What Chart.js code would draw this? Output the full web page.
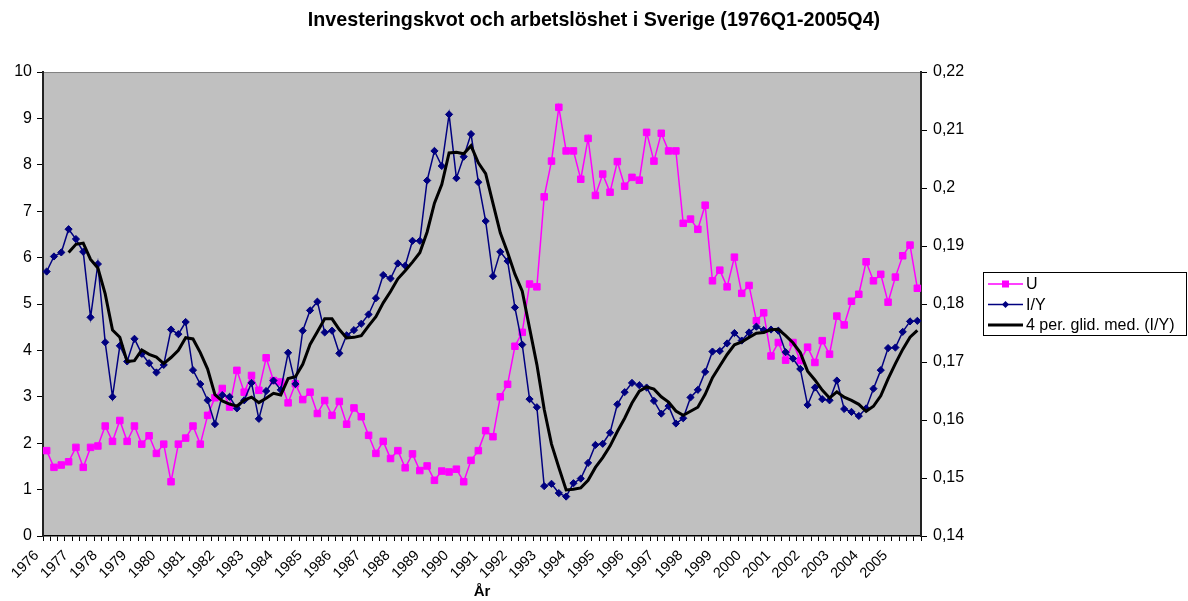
<!DOCTYPE html>
<html>
<head>
<meta charset="utf-8">
<script src="https://cdn.jsdelivr.net/npm/chart.js@4.4.0/dist/chart.umd.min.js"></script>
<style>
  html, body { margin: 0; padding: 0; background: #fff; }
  #wrap { width: 1188px; height: 601px; }
</style>
</head>
<body>
<div id="wrap"><canvas id="chart" width="1188" height="601"></canvas></div>
<script>
// years on the category axis (one label per Q1)
const years = [1976, 1977, 1978, 1979, 1980, 1981, 1982, 1983, 1984, 1985,
  1986, 1987, 1988, 1989, 1990, 1991, 1992, 1993, 1994, 1995,
  1996, 1997, 1998, 1999, 2000, 2001, 2002, 2003, 2004, 2005];
const quarters = ['Q1', 'Q2', 'Q3', 'Q4'];

// arbetslöshet, % (left axis)
const unemployment = [
  1.84, 1.48, 1.53, 1.60, 1.91, 1.48, 1.91, 1.94, 2.37, 2.04,
  2.49, 2.04, 2.37, 1.98, 2.16, 1.78, 1.98, 1.17, 1.98, 2.11,
  2.37, 1.98, 2.60, 2.98, 3.18, 2.78, 3.57, 3.10, 3.46, 3.14,
  3.84, 3.35, 3.32, 2.87, 3.28, 2.94, 3.10, 2.64, 2.92, 2.60,
  2.90, 2.41, 2.76, 2.57, 2.17, 1.78, 2.04, 1.67, 1.84, 1.47,
  1.77, 1.41, 1.51, 1.20, 1.40, 1.38, 1.44, 1.17, 1.63, 1.84,
  2.27, 2.14, 3.00, 3.27, 4.09, 4.39, 5.43, 5.37, 7.31, 8.08,
  9.24, 8.30, 8.30, 7.69, 8.57, 7.34, 7.80, 7.41, 8.07, 7.54,
  7.73, 7.67, 8.70, 8.08, 8.68, 8.30, 8.30, 6.74, 6.83, 6.61,
  7.13, 5.50, 5.73, 5.37, 6.01, 5.23, 5.40, 4.64, 4.81, 3.88,
  4.17, 3.79, 4.17, 3.78, 4.07, 3.74, 4.21, 3.92, 4.74, 4.55,
  5.06, 5.21, 5.91, 5.50, 5.64, 5.04, 5.58, 6.04, 6.27, 5.34
];

// investeringskvot I/Y (right axis)
const investRatio = [
  0.1856, 0.1882, 0.1889, 0.1929, 0.1912, 0.1890, 0.1777, 0.1869, 0.1734, 0.1640,
  0.1728, 0.1701, 0.1740, 0.1714, 0.1698, 0.1682, 0.1695, 0.1756, 0.1748, 0.1769,
  0.1686, 0.1662, 0.1634, 0.1593, 0.1643, 0.1640, 0.1620, 0.1634, 0.1664, 0.1602,
  0.1650, 0.1668, 0.1652, 0.1716, 0.1662, 0.1754, 0.1789, 0.1804, 0.1751, 0.1754,
  0.1715, 0.1746, 0.1755, 0.1766, 0.1782, 0.1810, 0.1850, 0.1844, 0.1870, 0.1866,
  0.1909, 0.1909, 0.2013, 0.2064, 0.2038, 0.2127, 0.2017, 0.2054, 0.2093, 0.2010,
  0.1943, 0.1848, 0.1890, 0.1874, 0.1794, 0.1730, 0.1636, 0.1622, 0.1486, 0.1490,
  0.1474, 0.1468, 0.1491, 0.1499, 0.1526, 0.1557, 0.1559, 0.1578, 0.1627, 0.1648,
  0.1664, 0.1660, 0.1656, 0.1633, 0.1611, 0.1624, 0.1594, 0.1603, 0.1639, 0.1652,
  0.1683, 0.1718, 0.1719, 0.1732, 0.1750, 0.1737, 0.1751, 0.1761, 0.1755, 0.1756,
  0.1754, 0.1717, 0.1706, 0.1688, 0.1626, 0.1656, 0.1636, 0.1634, 0.1668, 0.1619,
  0.1614, 0.1607, 0.1620, 0.1654, 0.1686, 0.1724, 0.1725, 0.1752, 0.1770, 0.1771
];

const categories = [];
years.forEach(y => quarters.forEach(q => categories.push(y + q)));

// 4-period trailing moving average of I/Y, as the Excel trendline does
const movingAvg = investRatio.map((v, i) =>
  i < 3 ? null : (investRatio[i] + investRatio[i - 1] + investRatio[i - 2] + investRatio[i - 3]) / 4);

const FONT = 'Liberation Sans, Arial, sans-serif';

const plotBg = {
  id: 'plotBg',
  beforeDraw(chart) {
    const { ctx, chartArea: a } = chart;
    ctx.save();
    ctx.fillStyle = '#fff';
    ctx.fillRect(0, 0, chart.width, chart.height);
    ctx.fillStyle = '#c0c0c0';
    ctx.fillRect(a.left, a.top, a.right - a.left, a.bottom - a.top);
    ctx.strokeStyle = '#808080';
    ctx.lineWidth = 1;
    ctx.beginPath();
    ctx.moveTo(a.left, a.top + 0.5);
    ctx.lineTo(a.right, a.top + 0.5);
    ctx.stroke();
    ctx.restore();
  }
};

// legend box like the Excel one
const boxLegend = {
  id: 'boxLegend',
  afterDraw(chart) {
    const ctx = chart.ctx;
    const x = 983, y = 272, w = 203, h = 63;
    ctx.save();
    ctx.fillStyle = '#fff';
    ctx.fillRect(x, y, w, h);
    ctx.strokeStyle = '#000';
    ctx.lineWidth = 1;
    ctx.strokeRect(x + 0.5, y + 0.5, w, h);
    const rows = [
      { text: 'U', color: '#ff00ff', width: 1.5, marker: 'rect' },
      { text: 'I/Y', color: '#000080', width: 1.5, marker: 'diamond' },
      { text: '4 per. glid. med. (I/Y)', color: '#000', width: 3, marker: null }
    ];
    ctx.font = '16px ' + FONT;
    ctx.textBaseline = 'middle';
    rows.forEach((r, k) => {
      const cy = y + 12 + k * 20.5;
      ctx.strokeStyle = r.color;
      ctx.lineWidth = r.width;
      ctx.beginPath();
      ctx.moveTo(x + 5, cy);
      ctx.lineTo(x + 40, cy);
      ctx.stroke();
      ctx.fillStyle = r.color;
      if (r.marker === 'rect') {
        ctx.fillRect(x + 22.5 - 3.5, cy - 3.5, 7, 7);
      } else if (r.marker === 'diamond') {
        ctx.beginPath();
        ctx.moveTo(x + 22.5, cy - 3.5);
        ctx.lineTo(x + 26, cy);
        ctx.lineTo(x + 22.5, cy + 3.5);
        ctx.lineTo(x + 19, cy);
        ctx.closePath();
        ctx.fill();
      }
      ctx.fillStyle = '#000';
      ctx.fillText(r.text, x + 43, cy + 1);
    });
    ctx.restore();
  }
};

new Chart(document.getElementById('chart').getContext('2d'), {
  type: 'line',
  data: {
    labels: categories,
    datasets: [
      {
        label: 'U',
        data: unemployment,
        yAxisID: 'y',
        borderColor: '#ff00ff',
        backgroundColor: '#ff00ff',
        borderWidth: 1.5,
        pointStyle: 'rect',
        pointRadius: 4.6,
        pointBorderWidth: 1,
        tension: 0,
        order: 3
      },
      {
        label: 'I/Y',
        data: investRatio,
        yAxisID: 'y1',
        borderColor: '#000080',
        backgroundColor: '#000080',
        borderWidth: 1.5,
        pointStyle: 'rectRot',
        pointRadius: 3.6,
        pointBorderWidth: 1,
        tension: 0,
        order: 2
      },
      {
        label: '4 per. glid. med. (I/Y)',
        data: movingAvg,
        yAxisID: 'y1',
        borderColor: '#000',
        borderWidth: 3,
        pointRadius: 0,
        tension: 0,
        order: 1
      }
    ]
  },
  options: {
    responsive: false,
    animation: false,
    layout: { padding: 0 },
    plugins: {
      legend: { display: false },
      tooltip: { enabled: false },
      title: {
        display: true,
        text: 'Investeringskvot och arbetslöshet i Sverige (1976Q1-2005Q4)',
        color: '#000',
        font: { family: FONT, size: 19.7, weight: 'bold' },
        padding: { top: 8.5, bottom: 39.9 }
      }
    },
    scales: {
      x: {
        type: 'category',
        offset: true,
        afterFit(scale) { scale.height = 65; },
        grid: { drawOnChartArea: false, offset: true, tickLength: 5, color: '#000', tickWidth: 1 },
        border: { color: '#000', width: 1.5 },
        ticks: {
          autoSkip: false,
          maxRotation: 45,
          minRotation: 45,
          padding: 6,
          labelOffset: -10,
          color: '#000',
          font: { family: FONT, size: 14.5 },
          callback: (v, i) => (i % 4 === 0 ? String(years[i / 4]) : '')
        },
        title: {
          display: true,
          text: 'År',
          color: '#000',
          font: { family: FONT, size: 15, weight: 'bold' },
          padding: { top: 0, bottom: 0 }
        }
      },
      y: {
        position: 'left',
        min: 0,
        max: 10,
        afterFit(scale) { scale.width = 43; },
        grid: { drawOnChartArea: false, tickLength: 6, color: '#000' },
        border: { color: '#222', width: 2 },
        ticks: {
          stepSize: 1,
          padding: 5,
          color: '#000',
          font: { family: FONT, size: 16 }
        }
      },
      y1: {
        position: 'right',
        min: 0.14,
        max: 0.22,
        afterFit(scale) { scale.width = 267; },
        grid: { drawOnChartArea: false, tickLength: 6, color: '#000' },
        border: { color: '#222', width: 2 },
        ticks: {
          stepSize: 0.01,
          padding: 6,
          color: '#000',
          font: { family: FONT, size: 16 },
          callback: v => String(Number(v.toFixed(2))).replace('.', ',')
        }
      }
    }
  },
  plugins: [plotBg, boxLegend]
});
</script>
</body>
</html>
